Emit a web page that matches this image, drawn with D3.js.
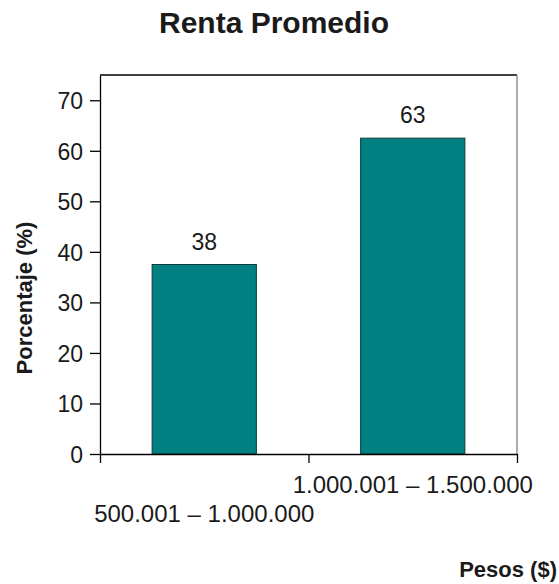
<!DOCTYPE html>
<head>
    <meta charset="utf-8">
    <script src="https://d3js.org/d3.v7.min.js"></script>
    <style>
        body {
            margin: 0;
            font-family: "Liberation Sans", Arial, sans-serif;
            background: #ffffff;
        }

        text {
            fill: #1a1a1a;
        }

        text.title {
            font-size: 30px;
            font-weight: 700;
        }

        text.axisTitle {
            font-size: 22px;
            font-weight: 700;
        }

        .tick text {
            font-size: 23px;
            fill: #1a1a1a;
        }

        text.valueLabel {
            font-size: 23px;
        }
    </style>
</head>

<body>
    <div id="chart"></div>
    <script>
        // data
        var categories = ["500.001 – 1.000.000", "1.000.001 – 1.500.000"];
        var values = [37.5, 62.5];
        var yTicks = [0, 10, 20, 30, 40, 50, 60, 70];

        var width = 559;
        var height = 584;

        const margin = {
            top: 75,
            right: 42,
            bottom: 130,
            left: 100
        };

        var svg = d3.select("#chart").append("svg")
            .attr("width", width)
            .attr("height", height);

        let data = categories.map((c, i) => ({ cat: c, value: values[i] }));

        let x = d3.scaleBand()
            .domain(categories)
            .range([margin.left, width - margin.right])
            .paddingInner(0.5)
            .paddingOuter(0.25);

        let y = d3.scaleLinear()
            .domain([0, 75])
            .range([height - margin.bottom, margin.top]);

        // title
        svg.append('text')
            .attr('class', 'title')
            .attr('x', 274)
            .attr('y', 33)
            .style('text-anchor', 'middle')
            .text('Renta Promedio');

        // plot frame: top black, right grey
        svg.append('line')
            .attr('x1', margin.left).attr('x2', width - margin.right)
            .attr('y1', y(75)).attr('y2', y(75))
            .attr('stroke', '#000').attr('stroke-width', 1.3);
        svg.append('line')
            .attr('x1', width - margin.right).attr('x2', width - margin.right)
            .attr('y1', y(75)).attr('y2', y(0))
            .attr('stroke', '#808080').attr('stroke-width', 1.3);

        // bars
        svg.selectAll('rect.bar')
            .data(data)
            .enter()
            .append('rect')
            .attr('class', 'bar')
            .attr('x', d => x(d.cat))
            .attr('width', x.bandwidth())
            .attr('y', d => y(d.value))
            .attr('height', d => y(0) - y(d.value))
            .style('fill', '#008080')
            .style('stroke', '#0b3b3b')
            .style('stroke-width', 1);

        svg.selectAll('text.valueLabel')
            .data(data)
            .enter()
            .append('text')
            .attr('class', 'valueLabel')
            .attr('x', d => x(d.cat) + x.bandwidth() / 2)
            .attr('y', d => y(d.value) - 15)
            .style('text-anchor', 'middle')
            .text(d => d3.format('.0f')(d.value));

        // y axis
        let yAxis = d3.axisLeft(y)
            .tickValues(yTicks)
            .tickSize(10)
            .tickPadding(7)
            .tickSizeOuter(0);

        let gy = svg.append('g')
            .attr('transform', `translate(${margin.left}, 0)`)
            .call(yAxis);
        gy.select('.domain').attr('stroke', '#000').attr('stroke-width', 1.3);
        gy.selectAll('.tick line').attr('stroke', '#000').attr('stroke-width', 1.3);
        gy.selectAll('.tick text')
            .attr('font-family', null)
            .attr('font-size', null)
            .attr('dy', '0.36em');

        // x axis: ticks at band boundaries, labels staggered
        let xLine = d3.scaleLinear()
            .domain([0, categories.length])
            .range([margin.left, width - margin.right]);

        let xAxis = d3.axisBottom(xLine)
            .ticks(categories.length)
            .tickSize(9)
            .tickSizeOuter(0)
            .tickFormat('');

        let gx = svg.append('g')
            .attr('transform', `translate(0, ${y(0)})`)
            .call(xAxis);
        gx.select('.domain').attr('stroke', '#000').attr('stroke-width', 1.3);
        gx.selectAll('.tick line').attr('stroke', '#000').attr('stroke-width', 1.3);

        svg.selectAll('text.catLabel')
            .data(data)
            .enter()
            .append('text')
            .attr('class', 'catLabel')
            .attr('x', d => x(d.cat) + x.bandwidth() / 2)
            .attr('y', (d, i) => i % 2 == 0 ? 522 : 493)
            .style('text-anchor', 'middle')
            .style('font-size', '24px')
            .text(d => d.cat);

        // axis titles
        svg.append('text')
            .attr('class', 'axisTitle')
            .attr('transform', 'translate(32, 298) rotate(-90)')
            .style('text-anchor', 'middle')
            .text('Porcentaje (%)');

        svg.append('text')
            .attr('class', 'axisTitle')
            .attr('x', 557)
            .attr('y', 577)
            .style('text-anchor', 'end')
            .text('Pesos ($)');
    </script>
</body>
